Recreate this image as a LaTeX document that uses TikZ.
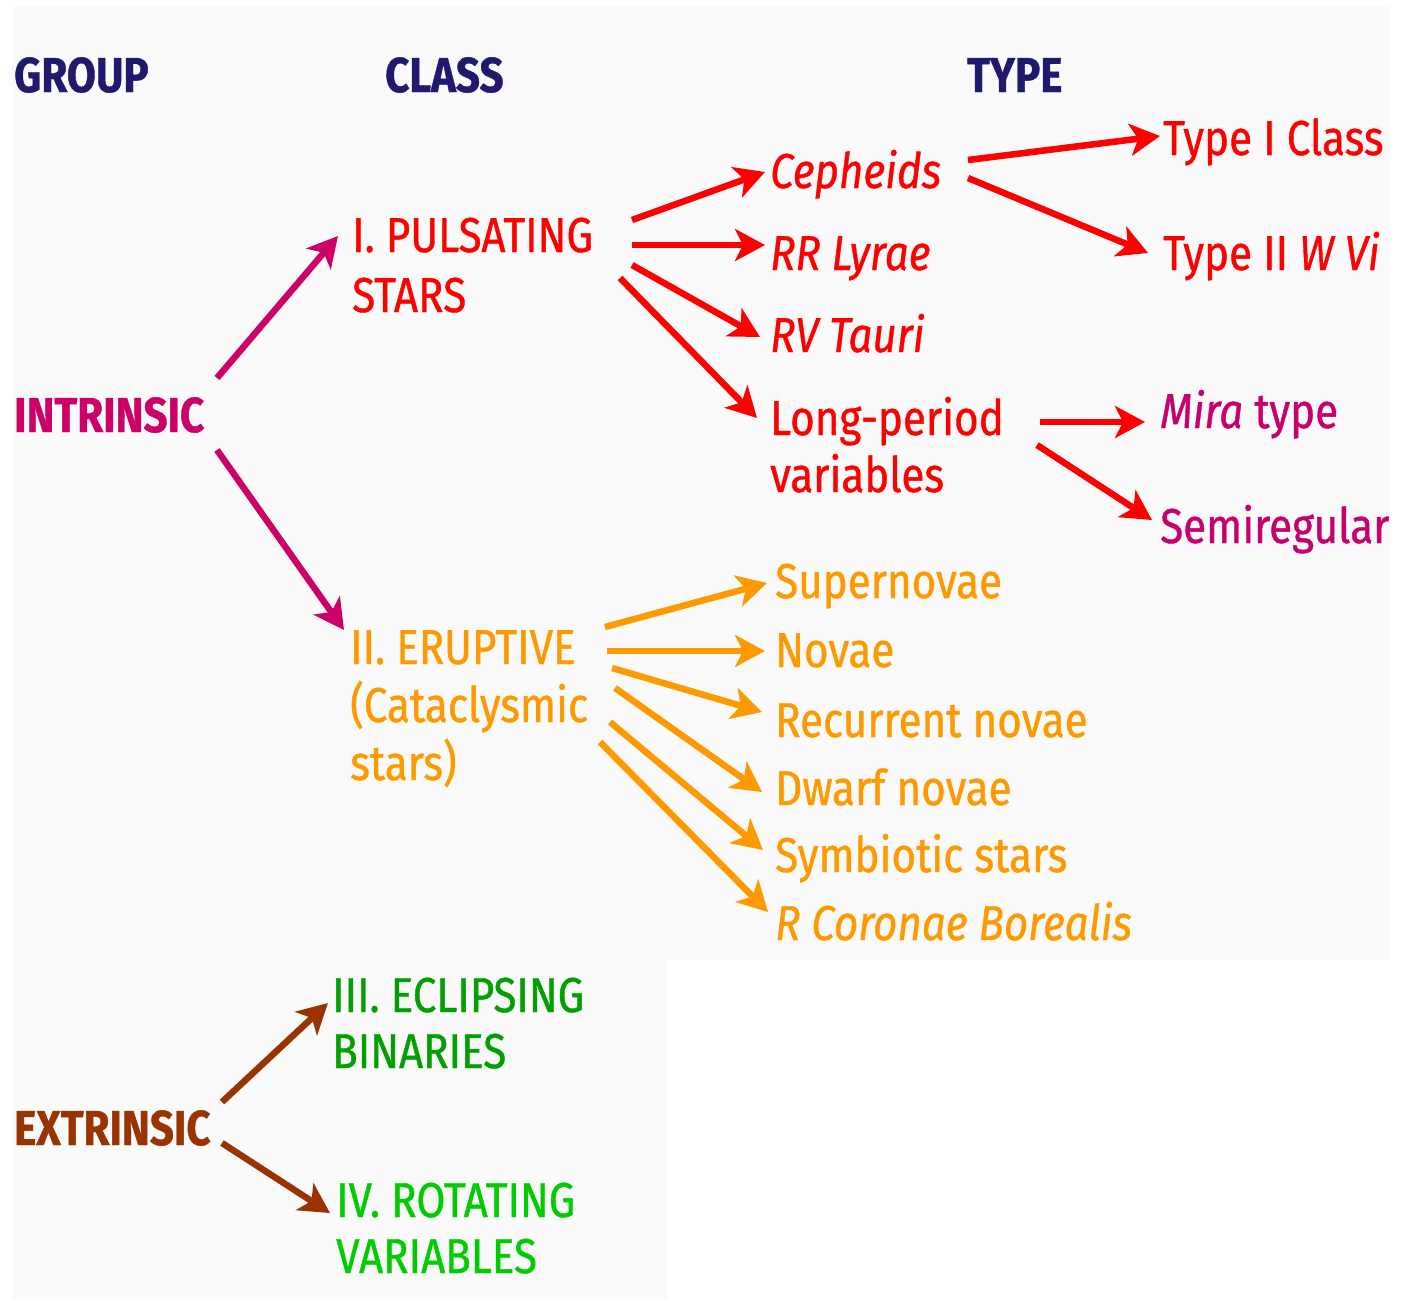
\documentclass[tikz,border=0pt]{standalone}
\usepackage{fontspec}
\setmainfont{Fira Sans}[FakeStretch=0.86, FakeBold=0.8]
\usetikzlibrary{arrows.meta}
\definecolor{hdr}{RGB}{31,26,110}
\definecolor{magn}{RGB}{204,0,102}
\definecolor{redc}{RGB}{255,0,0}
\definecolor{mira}{RGB}{200,0,110}
\definecolor{oran}{RGB}{255,153,0}
\definecolor{brwn}{RGB}{153,51,0}
\definecolor{grn1}{RGB}{0,160,0}
\definecolor{grn2}{RGB}{0,204,0}
\definecolor{bgc}{RGB}{250,250,250}
\tikzset{
  lbl/.style={anchor=base west, inner sep=0pt, font=\fontsize{49}{58}\selectfont},
  hd/.style={lbl, text=hdr, font=\fontsize{49}{58}\selectfont\bfseries},
  arr/.style={line width=6.5pt, -{Stealth[length=30pt,width=32pt,inset=8pt]}},
}
\begin{document}
\begin{tikzpicture}[x=1pt,y=-1pt]
\useasboundingbox (0,0) rectangle (1412,1302);
\fill[white] (0,0) rectangle (1412,1302);
\fill[bgc] (12,6) rectangle (1390,960);
\fill[bgc] (12,960) rectangle (668,1300);
% headers
\node[hd] (group) at (14,92) {GROUP};
\node[hd] (class) at (385,92) {CLASS};
\node[hd] (type) at (967,92) {TYPE};
% groups
\node[lbl, text=magn, font=\fontsize{49}{58}\selectfont\bfseries] (intr) at (14,432) {INTRINSIC};
\node[lbl, text=brwn, font=\fontsize{49}{58}\selectfont\bfseries] (extr) at (14,1145) {EXTRINSIC};
% classes
\node[lbl, text=redc] (puls) at (352,252) {I. PULSATING};
\node[lbl, text=redc] (puls2) at (352,312) {STARS};
\node[lbl, text=oran] (erup) at (350,664) {II. ERUPTIVE};
\node[lbl, text=oran] (erup2) at (350,722) {(Cataclysmic};
\node[lbl, text=oran] (erup3) at (350,780) {stars)};
\node[lbl, text=grn1] (ecl) at (332,1012) {III. ECLIPSING};
\node[lbl, text=grn1] (ecl2) at (332,1068) {BINARIES};
\node[lbl, text=grn2] (rot) at (336,1217) {IV. ROTATING};
\node[lbl, text=grn2] (rot2) at (336,1273) {VARIABLES};
% pulsating types
\node[lbl, text=redc, font=\fontsize{49}{58}\selectfont\itshape] (ceph) at (770,188) {Cepheids};
\node[lbl, text=redc, font=\fontsize{49}{58}\selectfont\itshape] (rr) at (770,270) {RR Lyrae};
\node[lbl, text=redc, font=\fontsize{49}{58}\selectfont\itshape] (rv) at (770,352) {RV Tauri};
\node[lbl, text=redc] (lpv) at (770,435) {Long-period};
\node[lbl, text=redc] (lpv2) at (770,492) {variables};
\node[lbl, text=redc] (t1) at (1163,155) {Type I Class};
\node[lbl, text=redc] (t2) at (1163,270) {Type II \textit{W Vi}};
\node[lbl, text=mira] (mira) at (1160,428) {\textit{Mira} type};
\node[lbl, text=mira] (semi) at (1160,543) {Semiregular};
% eruptive types
\node[lbl, text=oran] (sup) at (775,598) {Supernovae};
\node[lbl, text=oran] (nov) at (775,667) {Novae};
\node[lbl, text=oran] (rec) at (775,737) {Recurrent novae};
\node[lbl, text=oran] (dwf) at (775,805) {Dwarf novae};
\node[lbl, text=oran] (sym) at (775,872) {Symbiotic stars};
\node[lbl, text=oran, font=\fontsize{49}{58}\selectfont\itshape] (rcb) at (775,940) {R Coronae Borealis};
% arrows
\draw[arr, magn] ([shift={(203,-54)}]intr.base west) -- ([shift={(-14,-16)}]puls.base west);
\draw[arr, magn] ([shift={(203,18)}]intr.base west) -- ([shift={(-6,-34)}]erup.base west);
\draw[arr, redc] ([shift={(280,-32)}]puls.base west) -- ([shift={(-5,-16)}]ceph.base west);
\draw[arr, redc] ([shift={(280,-7)}]puls.base west) -- ([shift={(-5,-25)}]rr.base west);
\draw[arr, redc] ([shift={(280,13)}]puls.base west) -- ([shift={(-10,-15)}]rv.base west);
\draw[arr, redc] ([shift={(268,26)}]puls.base west) -- ([shift={(-13,-17)}]lpv.base west);
\draw[arr, redc] ([shift={(198,-28)}]ceph.base west) -- ([shift={(-3,-19)}]t1.base west);
\draw[arr, redc] ([shift={(198,-10)}]ceph.base west) -- ([shift={(-15,-17)}]t2.base west);
\draw[arr, redc] ([shift={(270,-13)}]lpv.base west) -- ([shift={(-15,-6)}]mira.base west);
\draw[arr, redc] ([shift={(267,10)}]lpv.base west) -- ([shift={(-8,-23)}]semi.base west);
\draw[arr, oran] ([shift={(255,-37)}]erup.base west) -- ([shift={(-8,-15)}]sup.base west);
\draw[arr, oran] ([shift={(257,-13)}]erup.base west) -- ([shift={(-10,-16)}]nov.base west);
\draw[arr, oran] ([shift={(262,4)}]erup.base west) -- ([shift={(-13,-25)}]rec.base west);
\draw[arr, oran] ([shift={(265,24)}]erup.base west) -- ([shift={(-13,-13)}]dwf.base west);
\draw[arr, oran] ([shift={(260,58)}]erup.base west) -- ([shift={(-12,-22)}]sym.base west);
\draw[arr, oran] ([shift={(250,78)}]erup.base west) -- ([shift={(-7,-28)}]rcb.base west);
\draw[arr, brwn] ([shift={(208,-43)}]extr.base west) -- ([shift={(-4,-9)}]ecl.base west);
\draw[arr, brwn] ([shift={(208,-2)}]extr.base west) -- ([shift={(-6,-4)}]rot.base west);
\end{tikzpicture}
\end{document}
